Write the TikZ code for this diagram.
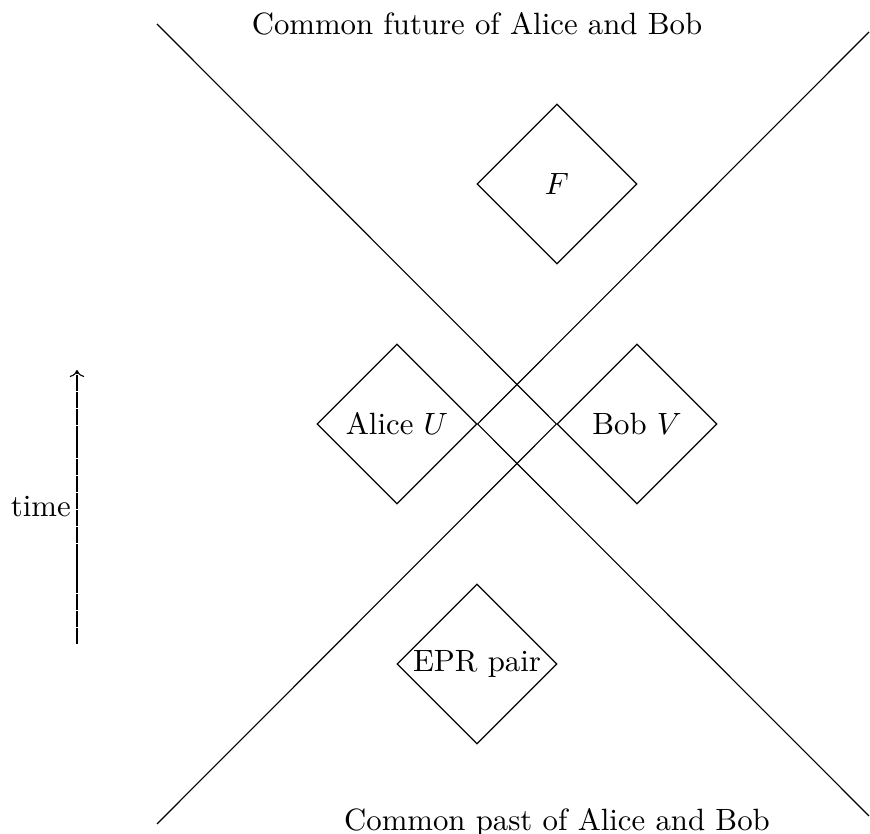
\documentclass[tikz,border=0pt]{standalone}
\usetikzlibrary{shapes.geometric, arrows.meta, positioning}

\begin{document}
\begin{tikzpicture}[x=0.5cm, y=0.5cm, font=\fontsize{10.95}{13.6}\selectfont,
    region/.style={draw, diamond, minimum width=2cm, minimum height=2cm, inner sep=0pt}]
    \useasboundingbox (-12.925,-10.25) rectangle (8.825,10.6);

    % spacetime regions
    \node [region] (alice) at (-3,0) {Alice $U$};
    \node [region] (bob) at (3,0) {Bob $V$};
    \node [region] (fut) at (1,6) {$F$};
    \node [region] (epr) at (-1,-6) {EPR pair};

    % light cones
    \coordinate (tl) at (-9,10);
    \coordinate (bl) at (-9,-10);
    \coordinate (tr) at (8.8,9.8);
    \coordinate (br) at (8.8,-9.8);
    \draw (tl) -- (bob.west) -- (bl);
    \draw (tr) -- (alice.east) -- (br);

    \node (future) at (-1,10) {Common future of Alice and Bob};
    \node (past) at (1,-9.95) {Common past of Alice and Bob};

    % time axis
    \coordinate (t0) at (-11,-5.5);
    \coordinate (t1) at (-11,1.35);
    \draw [->, dash pattern=on 5.7pt off 0.3pt] (t0) -- (t1) node [midway, left, inner sep=2pt] (time) {time};
\end{tikzpicture}
\end{document}
